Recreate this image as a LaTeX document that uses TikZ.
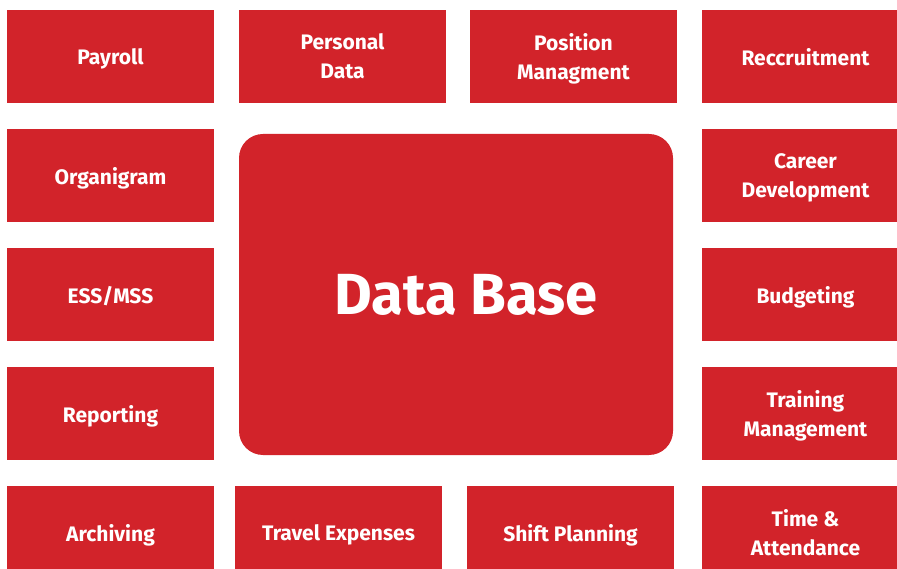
\documentclass[tikz,border=0pt]{standalone}
\usepackage{fontspec}
\setmainfont{Fira Sans}
\definecolor{hrred}{RGB}{210,35,42}
\tikzset{font=\bfseries\fontsize{21}{29}\selectfont}
\tikzstyle{tile}=[rectangle,fill=hrred,text=white,inner sep=0pt,minimum width=207pt,minimum height=93pt,align=center,text depth=-2pt]
\tikzstyle{tiletwo}=[tile,text depth=-5pt]
\tikzstyle{core}=[rectangle,rounded corners=24pt,fill=hrred,inner sep=0pt,minimum width=434pt,minimum height=321pt]
\tikzstyle{coretext}=[text=white,inner sep=0pt,font=\bfseries\fontsize{58}{60}\selectfont]

\begin{document}
\begin{tikzpicture}[x=1pt,y=-1pt]
	\useasboundingbox (0,0) rectangle (897,569);
	\clip (0,0) rectangle (897,569);
	% top row
	\node [style=tile] (payroll) at (110.5, 56.5) {Payroll};
	\node [style=tiletwo] (personal) at (342.5, 56.5) {Personal\\Data};
	\node [style=tiletwo] (position) at (573.5, 56.5) {Position\\Managment};
	\node [style=tile] (recruit) at (805.5, 56.5) {Reccruitment};
	% left column
	\node [style=tile] (organi) at (110.5, 175.5) {Organigram};
	\node [style=tile] (ess) at (110.5, 294.5) {ESS/MSS};
	\node [style=tile] (report) at (110.5, 413.5) {Reporting};
	% right column
	\node [style=tiletwo] (career) at (805.5, 175.5) {Career\\Development};
	\node [style=tile] (budget) at (805.5, 294.5) {Budgeting};
	\node [style=tiletwo] (training) at (805.5, 413.5) {Training\\Management};
	% bottom row
	\node [style=tile] (archive) at (110.5, 532.5) {Archiving};
	\node [style=tile] (travel) at (338.5, 532.5) {Travel Expenses};
	\node [style=tile] (shift) at (570.5, 532.5) {Shift Planning};
	\node [style=tiletwo] (time) at (805.5, 532.5) {Time \&\\Attendance};
	% centre
	\node [style=core] (db) at (456, 294.5) {};
	\node [style=coretext] (dbtext) at ([xshift=10pt]db.center) {Data Base};
\end{tikzpicture}
\end{document}
